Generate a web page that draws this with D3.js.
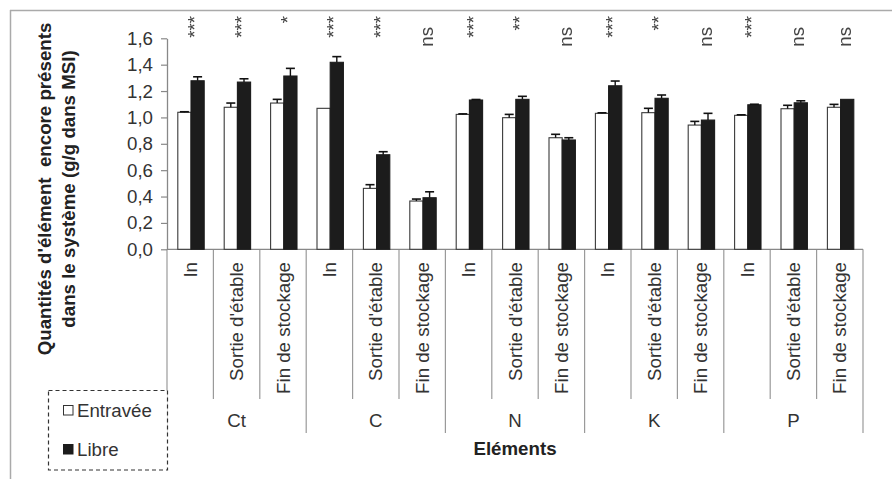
<!DOCTYPE html>
<html>
<head>
<meta charset="utf-8">
<script src="https://cdn.jsdelivr.net/npm/d3@7"></script>
<style>
  html, body { margin: 0; padding: 0; background: #fff; }
  svg { display: block; font-family: "Liberation Sans", Arial, sans-serif; }
  .pre { white-space: pre; }
  .sig { filter: grayscale(100%); }
</style>
</head>
<body>
<svg id="chart" width="892" height="479"></svg>
<script>
// ---------------- data ----------------
const groups = ["Ct", "C", "N", "K", "P"];
const stages = ["In", "Sortie d'étable", "Fin de stockage"];
const seriesNames = ["Entravée", "Libre"];
const entravee = [1.039, 1.077, 1.109, 1.069, 0.462, 0.366, 1.023, 0.998, 0.846, 1.031, 1.036, 0.942, 1.016, 1.066, 1.077];
const libre    = [1.278, 1.268, 1.314, 1.418, 0.717, 0.391, 1.132, 1.137, 0.829, 1.240, 1.145, 0.980, 1.096, 1.111, 1.137];
const errEntravee = [0.004, 0.032, 0.028, 0.000, 0.028, 0.015, 0.004, 0.025, 0.026, 0.004, 0.033, 0.028, 0.004, 0.026, 0.022];
const errLibre    = [0.030, 0.025, 0.058, 0.043, 0.023, 0.045, 0.004, 0.023, 0.017, 0.036, 0.025, 0.051, 0.004, 0.015, 0.000];
const signif = ["***", "***", "*", "***", "***", "ns", "***", "**", "ns", "***", "**", "ns", "***", "ns", "ns"];
const yTicks = [0, 0.2, 0.4, 0.6, 0.8, 1.0, 1.2, 1.4, 1.6];
const yTitle = ["Quantités d'élément  encore présents", "dans le système (g/g dans MSI)"];
const xTitle = "Eléments";

// ---------------- layout ----------------
const svg = d3.select("#chart");
const X0 = 167, X1 = 863, Y0 = 249.3, Y1 = 38.3;
const FS = 18.7;
const txt = "#333";
const gridCol = "#9a9a9a";

const cats = [];
groups.forEach((g, gi) => stages.forEach((s, si) => cats.push({ key: g + "|" + s, group: g, stage: s, gi, si })));
cats.forEach((c, i) => {
  c.vals = [entravee[i], libre[i]];
  c.errs = [errEntravee[i], errLibre[i]];
  c.sig = signif[i];
});

const x = d3.scaleBand().domain(cats.map(c => c.key)).range([X0, X1]).padding(0);
const bw = x.bandwidth();
const xs = d3.scaleBand().domain(seriesNames).range([10.8, 37.2]).padding(0);
const y = d3.scaleLinear().domain([0, 1.6]).range([Y0, Y1]);

// outer frame
svg.append("line").attr("x1", 10).attr("x2", 892).attr("y1", 10.5).attr("y2", 10.5).attr("stroke", "#aaa").attr("stroke-width", 1.5);
svg.append("line").attr("x1", 10.5).attr("x2", 10.5).attr("y1", 10).attr("y2", 479).attr("stroke", "#aaa").attr("stroke-width", 1.5);

// category separators
const bounds = d3.range(cats.length + 1);
svg.append("g").selectAll("line").data(bounds).join("line")
  .attr("x1", i => X0 + i * bw).attr("x2", i => X0 + i * bw)
  .attr("y1", Y0).attr("y2", i => (i % 3 === 0) ? 433 : 399)
  .attr("stroke", gridCol).attr("stroke-width", 1.2);

// x axis baseline
svg.append("line").attr("x1", X0).attr("x2", X1).attr("y1", Y0).attr("y2", Y0)
  .attr("stroke", "#888").attr("stroke-width", 1.3);

// y axis
const yAxis = d3.axisLeft(y).tickValues(yTicks).tickSize(6).tickSizeOuter(0).tickPadding(8)
  .tickFormat(d => d3.format(".1f")(d).replace(".", ","));
const ya = svg.append("g").attr("transform", `translate(${X0},0)`).call(yAxis);
ya.select(".domain").attr("stroke", "#888").attr("stroke-width", 1.3);
ya.selectAll(".tick line").attr("stroke", "#888").attr("stroke-width", 1.2);
ya.selectAll(".tick text").attr("font-size", FS).attr("fill", txt)
  .attr("font-family", "Liberation Sans, Arial, sans-serif");

// bars
const cg = svg.append("g").selectAll("g").data(cats).join("g")
  .attr("transform", d => `translate(${x(d.key)},0)`);
cg.selectAll("rect").data(d => seriesNames.map((s, k) => ({ s, v: d.vals[k], e: d.errs[k], k }))).join("rect")
  .attr("x", d => xs(d.s)).attr("width", xs.bandwidth())
  .attr("y", d => y(d.v)).attr("height", d => y(0) - y(d.v))
  .attr("fill", d => d.k === 0 ? "#fff" : "#1c1c1c")
  .attr("stroke", d => d.k === 0 ? "#3a3a3a" : "#1c1c1c").attr("stroke-width", 1.1);

// error bars
cg.selectAll("g.err").data(d => seriesNames.map((s, k) => ({ s, v: d.vals[k], e: d.errs[k], k })).filter(d => d.e > 0))
  .join("g").attr("class", "err").each(function(d) {
    const g = d3.select(this);
    const cx = xs(d.s) + xs.bandwidth() / 2;
    g.append("line").attr("x1", cx).attr("x2", cx).attr("y1", y(d.v)).attr("y2", y(d.v + d.e))
      .attr("stroke", "#111").attr("stroke-width", 1.4);
    g.append("line").attr("x1", cx - 4.5).attr("x2", cx + 4.5).attr("y1", y(d.v + d.e)).attr("y2", y(d.v + d.e))
      .attr("stroke", "#111").attr("stroke-width", 1.6);
  });

// significance labels (rotated)
cg.append("text")
  .attr("class", "sig")
  .attr("transform", d => `translate(${bw / 2 + 11},${d.sig === "ns" ? 27 : 16}) rotate(-90)`)
  .attr("text-anchor", "end")
  .attr("font-size", FS).attr("fill", "#444")
  .text(d => d.sig);

// stage labels (rotated)
cg.append("text")
  .attr("transform", `translate(${bw / 2 + 6.5},262) rotate(-90)`)
  .attr("text-anchor", "end")
  .attr("font-size", FS).attr("fill", txt)
  .text(d => d.stage);

// group labels
svg.append("g").selectAll("text").data(groups).join("text")
  .attr("x", (g, gi) => X0 + (gi * 3 + 1.5) * bw)
  .attr("y", 427)
  .attr("text-anchor", "middle").attr("font-size", FS).attr("fill", txt)
  .text(g => g);

// x title
svg.append("text").attr("x", (X0 + X1) / 2).attr("y", 455).attr("text-anchor", "middle")
  .attr("font-size", FS).attr("font-weight", "bold").attr("fill", "#222").text(xTitle);

// y title
svg.append("g").selectAll("text").data(yTitle).join("text")
  .attr("class", "pre")
  .attr("transform", (t, i) => `translate(${51 + i * 24},189) rotate(-90)`)
  .attr("text-anchor", "middle").attr("font-size", FS).attr("font-weight", "bold").attr("fill", "#222")
  .text(t => t);

// legend
const lg = svg.append("g");
lg.append("rect").attr("x", 48.5).attr("y", 390.5).attr("width", 119).attr("height", 79.5)
  .attr("fill", "#fff").attr("stroke", "#333").attr("stroke-width", 1.2).attr("stroke-dasharray", "4,3");
lg.selectAll("g.item").data(seriesNames).join("g").attr("class", "item").each(function(s, k) {
  const g = d3.select(this);
  const yy = k === 0 ? 405 : 444;
  g.append("rect").attr("x", 63.5).attr("y", yy + 0.5).attr("width", 9.5).attr("height", 9.5)
    .attr("fill", k === 0 ? "#fff" : "#1c1c1c").attr("stroke", k === 0 ? "#333" : "#1c1c1c").attr("stroke-width", 1);
  g.append("text").attr("x", 77).attr("y", yy + 11.5).attr("font-size", FS).attr("fill", txt).text(s);
});
</script>
</body>
</html>
